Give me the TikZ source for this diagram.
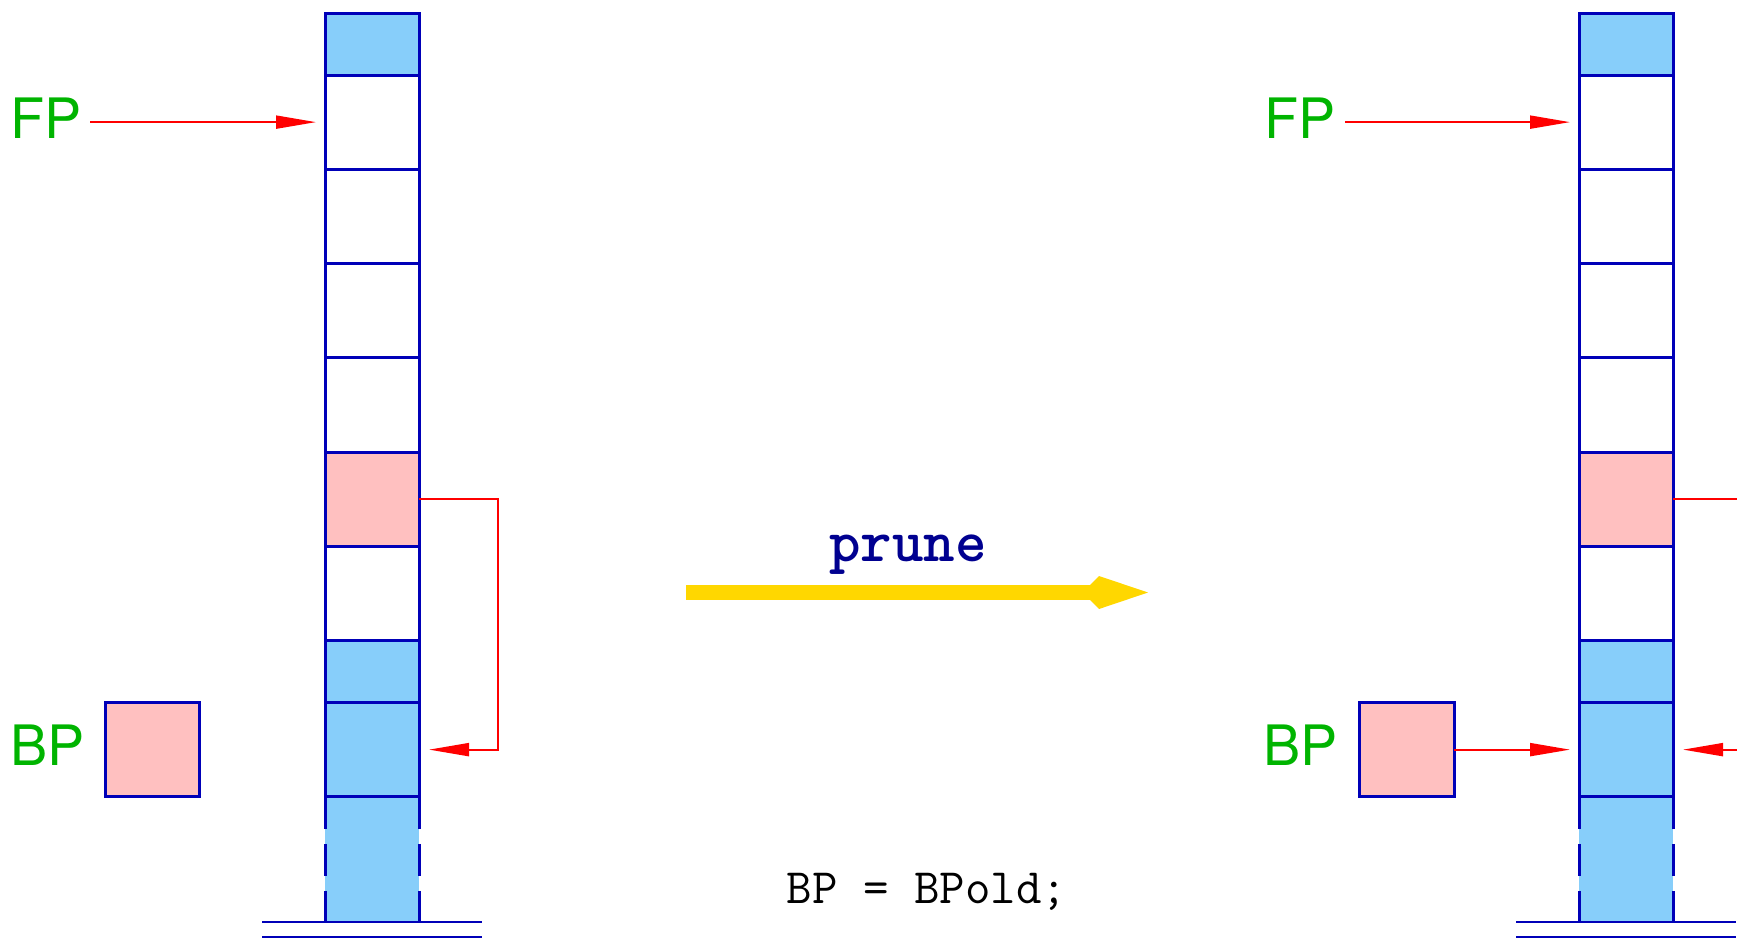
\documentclass[tikz,border=0pt]{standalone}
\usepackage{fontspec}
\setsansfont{TeX Gyre Heros}
\usetikzlibrary{arrows.meta,calc}
\definecolor{cellblue}{RGB}{0,0,184}
\definecolor{stackfill}{RGB}{135,206,250}
\definecolor{pinkfill}{RGB}{255,192,192}
\definecolor{labgreen}{RGB}{0,180,0}
\definecolor{prunecol}{RGB}{0,0,144}
\definecolor{arrowgold}{RGB}{255,215,0}
\tikzset{
  cell/.style={draw=cellblue, line width=3pt, minimum width=94pt, minimum height=94.25pt,
    inner sep=0pt, outer sep=0pt, anchor=north},
  shortcell/.style={minimum height=62pt},
  bluecell/.style={fill=stackfill},
  pinkcell/.style={fill=pinkfill},
  stackline/.style={draw=cellblue, line width=3pt},
  floorline/.style={draw=cellblue, line width=2.5pt},
  ptr/.style={draw=red, line width=2pt, -{Triangle[length=40pt,width=13pt]}},
  reglabel/.style={font=\sffamily\fontsize{55.7pt}{60pt}\selectfont, text=labgreen,
    inner sep=0pt, anchor=base west},
  regbox/.style={draw=cellblue, fill=pinkfill, line width=3pt, minimum size=94.2pt,
    inner sep=0pt, outer sep=0pt},
}
\newcommand\drawstackcol[2]{%
  \node[fill=stackfill, inner sep=0pt, outer sep=0pt, minimum width=94pt,
        minimum height=125pt, anchor=north] (#1c10) at (#2,796.75) {};
  \draw[stackline, dash pattern=on 32.5pt off 14.5pt] (#1c10.north west) -- (#1c10.south west);
  \draw[stackline, dash pattern=on 32.5pt off 14.5pt] (#1c10.north east) -- (#1c10.south east);
  \node[cell, shortcell, bluecell] (#1c1) at (#2,13) {};
  \node[cell] (#1c2) at (#2,75) {};
  \node[cell] (#1c3) at (#2,169.25) {};
  \node[cell] (#1c4) at (#2,263.5) {};
  \node[cell] (#1c5) at (#2,357.75) {};
  \node[cell, pinkcell] (#1c6) at (#2,452) {};
  \node[cell] (#1c7) at (#2,546.25) {};
  \node[cell, shortcell, bluecell] (#1c8) at (#2,640.5) {};
  \node[cell, bluecell] (#1c9) at (#2,702.5) {};
  \draw[floorline] ([xshift=-62.6pt]#1c10.south west) -- ([xshift=62.6pt]#1c10.south east);
  \draw[floorline] ([xshift=-62.6pt,yshift=-15pt]#1c10.south west) -- ([xshift=62.6pt,yshift=-15pt]#1c10.south east);
}
\begin{document}
\begin{tikzpicture}[x=1pt,y=-1pt]
\useasboundingbox (0,0) rectangle (1737,938);
\clip (0,0) rectangle (1737,938);

% left stack
\drawstackcol{L}{372}
\node[reglabel] (FPL) at (10.6,138.3) {FP};
\draw[ptr] ($(FPL.east |- Lc2.west)+(8,0)$) -- ([xshift=-9pt]Lc2.west);
\node[reglabel] (BPL) at (10.6,765) {BP};
\node[regbox] (BPboxL) at (152.85,749.625) {};
\draw[ptr] (Lc6.east) -- ++(79,0) |- ([xshift=10pt]Lc9.east);

% right stack
\drawstackcol{R}{1626}
\node[reglabel] (FPR) at (1264.5,138.3) {FP};
\draw[ptr] ($(FPR.east |- Rc2.west)+(9,0)$) -- ([xshift=-9pt]Rc2.west);
\node[reglabel] (BPR) at (1263.5,765) {BP};
\node[regbox] (BPboxR) at (1407,749.625) {};
\draw[ptr] (BPboxR.east) -- ([xshift=-9pt]Rc9.west);
\draw[ptr] (Rc6.east) -- ++(100,0) |- ([xshift=10pt]Rc9.east);

% transition arrow
\coordinate (prA) at (686,592.5);
\coordinate (prB) at (1090,592.5);
\draw[arrowgold, line width=15pt] (prA) -- (prB);
\fill[arrowgold, shift={(prB)}] (0,-7.5) -- (9,-16.5) -- (58,0) -- (9,16.5) -- (0,7.5) -- cycle;
\node[anchor=base, inner sep=0pt, text=prunecol,
      font=\ttfamily\bfseries\fontsize{60pt}{64pt}\selectfont] (prune) at (908,561.7) {prune};
\node[anchor=base, inner sep=0pt,
      font=\ttfamily\fontsize{49.5pt}{52pt}\selectfont] (code) at (927,903.3) {BP = BPold;};
\end{tikzpicture}
\end{document}
